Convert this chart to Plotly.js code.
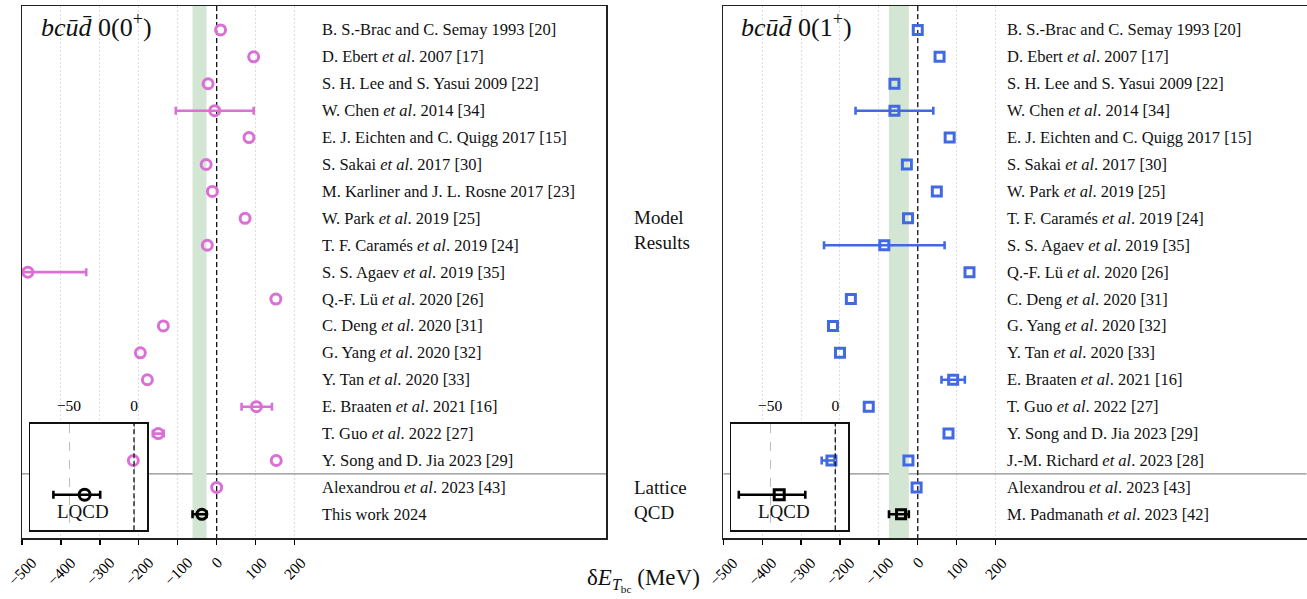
<!DOCTYPE html>
<html>
<head>
<meta charset="utf-8">
<script src="https://cdn.plot.ly/plotly-3.0.1.min.js"></script>
<style>html,body{margin:0;padding:0;background:#fff;}</style>
</head>
<body>
<div id="chart" style="width:1307px;height:599px;"></div>
<script>
// ---------- bc ū d̄ , I(J^P) = 0(0+) ----------
const refs0 = [
  "B. S.-Brac and C. Semay 1993 [20]",
  "D. Ebert <i>et al</i>. 2007 [17]",
  "S. H. Lee and S. Yasui 2009 [22]",
  "W. Chen <i>et al</i>. 2014 [34]",
  "E. J. Eichten and C. Quigg 2017 [15]",
  "S. Sakai <i>et al</i>. 2017 [30]",
  "M. Karliner and J. L. Rosne 2017 [23]",
  "W. Park <i>et al</i>. 2019 [25]",
  "T. F. Caramés <i>et al</i>. 2019 [24]",
  "S. S. Agaev <i>et al</i>. 2019 [35]",
  "Q.-F. Lü <i>et al</i>. 2020 [26]",
  "C. Deng <i>et al</i>. 2020 [31]",
  "G. Yang <i>et al</i>. 2020 [32]",
  "Y. Tan <i>et al</i>. 2020 [33]",
  "E. Braaten <i>et al</i>. 2021 [16]",
  "T. Guo <i>et al</i>. 2022 [27]",
  "Y. Song and D. Jia 2023 [29]",
  "Alexandrou <i>et al</i>. 2023 [43]",
  "This work 2024"
];
// model + Alexandrou results (MeV); null = no error quoted
const pointRef0 = [0,1,2,3,4,5,6,7,8,9,10,11,12,13,14,15,16,16,17];
const pointVal0 = [10, 95, -22, -5, 83, -27, -11, 73, -24, -485, 152, -137, -196, -178, 102, -150, -214, 153, 0];
const pointErrPlus0  = [null,null,null,100,null,null,null,null,null,150,null,null,null,null,40,14,null,null,null];
const pointErrMinus0 = [null,null,null,100,null,null,null,null,null,150,null,null,null,null,38,14,null,null,null];
// lattice result of this work
const lqcdRef0 = 18;
const lqcdVal0 = -38, lqcdPlus0 = 12, lqcdMinus0 = 24;

// ---------- bc ū d̄ , I(J^P) = 0(1+) ----------
const refs1 = [
  "B. S.-Brac and C. Semay 1993 [20]",
  "D. Ebert <i>et al</i>. 2007 [17]",
  "S. H. Lee and S. Yasui 2009 [22]",
  "W. Chen <i>et al</i>. 2014 [34]",
  "E. J. Eichten and C. Quigg 2017 [15]",
  "S. Sakai <i>et al</i>. 2017 [30]",
  "W. Park <i>et al</i>. 2019 [25]",
  "T. F. Caramés <i>et al</i>. 2019 [24]",
  "S. S. Agaev <i>et al</i>. 2019 [35]",
  "Q.-F. Lü <i>et al</i>. 2020 [26]",
  "C. Deng <i>et al</i>. 2020 [31]",
  "G. Yang <i>et al</i>. 2020 [32]",
  "Y. Tan <i>et al</i>. 2020 [33]",
  "E. Braaten <i>et al</i>. 2021 [16]",
  "T. Guo <i>et al</i>. 2022 [27]",
  "Y. Song and D. Jia 2023 [29]",
  "J.-M. Richard <i>et al</i>. 2023 [28]",
  "Alexandrou <i>et al</i>. 2023 [43]",
  "M. Padmanath <i>et al</i>. 2023 [42]"
];
const pointRef1 = [0,1,2,3,4,5,6,7,8,9,10,11,12,13,14,15,16,16,17];
const pointVal1 = [0, 56, -60, -60, 82, -28, 49, -25, -86, 133, -172, -218, -200, 91, -126, 79, -222, -24, -3];
const pointErrPlus1  = [null,null,null,100,null,null,null,null,155,null,null,null,null,30,null,null,8,null,null];
const pointErrMinus1 = [null,null,null,100,null,null,null,null,155,null,null,null,null,30,null,null,25,null,null];
const lqcdRef1 = 18;
const lqcdVal1 = -43, lqcdPlus1 = 20, lqcdMinus1 = 31;

// axis ticks
const mainTicks = [-500, -400, -300, -200, -100, 0, 100, 200];
const insetTicks = [-50, 0];

// ---------- styling ----------
const FONT = "Liberation Serif";
const PINK = "#da70d6";
const BLUE = "#4169e1";
const nanify = a => a.map(v => (v === null ? NaN : v));
const fmtTick = v => (v < 0 ? "\u2212" + Math.abs(v) : String(v));

// pixel layout of the panels
const W = 1307, H = 599;
const panelTop = 6, panelBottom = 538;
const tickLabelTop = 551;
const panels = [
  {x0: 22, x1: 606, inset: [30, 147]},
  {x0: 723.3, x1: 1306.7, inset: [731, 848.3]}
];
const insetTop = 423.7, insetBottom = 530.3;
const px2fx = p => p / W;
const px2fy = p => 1 - p / H;

const xRange = [-500, 1000];
const nRows = 19;
const yRange = [nRows - 1 + 0.88, -0.89];

function mainX(i) {
  return {
    domain: [px2fx(panels[i].x0), px2fx(panels[i].x1)],
    anchor: i === 0 ? "y" : "y2",
    range: xRange,
    tickmode: "array", tickvals: mainTicks,
    showticklabels: false,
    ticks: "outside", ticklen: 5, tickwidth: 1.3, tickcolor: "#000",
    showline: true, mirror: true, linecolor: "#222", linewidth: 1.5,
    showgrid: true, gridcolor: "#dcdcdc", griddash: "2px,2px", gridwidth: 1,
    zeroline: false, fixedrange: true
  };
}
function mainY(i, refs) {
  return {
    domain: [px2fy(panelBottom), px2fy(panelTop)],
    anchor: i === 0 ? "x" : "x2",
    type: "category", categoryorder: "array", categoryarray: refs,
    range: yRange,
    showticklabels: false, ticks: "",
    showline: true, mirror: true, linecolor: "#222", linewidth: 1.5,
    showgrid: false, zeroline: false, fixedrange: true
  };
}
function insetX(i) {
  return {
    domain: [px2fx(panels[i].inset[0]), px2fx(panels[i].inset[1])],
    anchor: i === 0 ? "y3" : "y4",
    side: "top",
    range: [-80, 10],
    tickmode: "array", tickvals: insetTicks,
    tickfont: {family: FONT, size: 15.5, color: "#000"},
    ticks: "", ticklabelstandoff: 5,
    showline: true, mirror: true, linecolor: "#111", linewidth: 1.5,
    showgrid: true, gridcolor: "#bdbdbd", griddash: "dash", gridwidth: 1,
    zeroline: false, fixedrange: true
  };
}
function insetY(i) {
  return {
    domain: [px2fy(insetBottom), px2fy(insetTop)],
    anchor: i === 0 ? "x3" : "x4",
    range: [-1, 2],
    showticklabels: false, ticks: "",
    showline: true, mirror: true, linecolor: "#111", linewidth: 1.5,
    showgrid: false, zeroline: false, fixedrange: true
  };
}

function errX(plus, minus, color) {
  return {type: "data", symmetric: false, array: plus, arrayminus: minus,
          color: color, thickness: 2.6, width: 4};
}

const traces = [];
const panelData = [
  {refs: refs0, pr: pointRef0, pv: pointVal0, pp: pointErrPlus0, pm: pointErrMinus0,
   lr: lqcdRef0, lv: lqcdVal0, lp: lqcdPlus0, lm: lqcdMinus0,
   color: PINK, symbol: "circle-open", size: 10},
  {refs: refs1, pr: pointRef1, pv: pointVal1, pp: pointErrPlus1, pm: pointErrMinus1,
   lr: lqcdRef1, lv: lqcdVal1, lp: lqcdPlus1, lm: lqcdMinus1,
   color: BLUE, symbol: "square-open", size: 9}
];

panelData.forEach((d, i) => {
  const xa = i === 0 ? "x" : "x2", ya = i === 0 ? "y" : "y2";
  const xi = i === 0 ? "x3" : "x4", yi = i === 0 ? "y3" : "y4";
  traces.push({
    type: "scatter", mode: "markers", xaxis: xa, yaxis: ya,
    x: d.pv, y: d.pr.map(k => d.refs[k]),
    marker: {symbol: d.symbol, size: d.size, color: d.color, line: {width: 3, color: d.color}},
    error_x: errX(nanify(d.pp), nanify(d.pm), d.color),
    hoverinfo: "x+y", showlegend: false
  });
  traces.push({
    type: "scatter", mode: "markers", xaxis: xa, yaxis: ya,
    x: [d.lv], y: [d.refs[d.lr]],
    marker: {symbol: d.symbol, size: d.size, color: "#000", line: {width: 3, color: "#000"}},
    error_x: errX([d.lp], [d.lm], "#000"),
    showlegend: false
  });
  // zoomed view of the lattice result
  traces.push({
    type: "scatter", mode: "markers", xaxis: xi, yaxis: yi,
    x: [d.lv], y: [0],
    marker: {symbol: d.symbol, size: d.size + 1, color: "#000", line: {width: 3, color: "#000"}},
    error_x: errX([d.lp], [d.lm], "#000"),
    showlegend: false
  });
});

const shapes = [];
const annotations = [];
panelData.forEach((d, i) => {
  const xa = i === 0 ? "x" : "x2", ya = i === 0 ? "y" : "y2";
  const xi = i === 0 ? "x3" : "x4", yi = i === 0 ? "y3" : "y4";
  const p = panels[i];
  const yTop = yRange[1], yBot = yRange[0];
  // separator between model and lattice results
  shapes.push({type: "line", layer: "between", xref: xa, yref: ya,
    x0: xRange[0], x1: xRange[1], y0: 16.5, y1: 16.5, line: {color: "#8c8c8c", width: 1.3}});
  // white backing under the inset (pixel box mapped into data units)
  const pxToX = px => xRange[0] + (px - p.x0) / (p.x1 - p.x0) * (xRange[1] - xRange[0]);
  const pxToY = py => yTop + (py - panelTop) / (panelBottom - panelTop) * (yBot - yTop);
  shapes.push({type: "rect", layer: "between", xref: xa, yref: ya,
    x0: pxToX(p.inset[0]), x1: pxToX(p.inset[1]),
    y0: pxToY(insetTop), y1: pxToY(insetBottom),
    fillcolor: "#fff", line: {width: 0}});
  // lattice band
  shapes.push({type: "rect", layer: "between", xref: xa, yref: ya,
    x0: d.lv - d.lm, x1: d.lv + d.lp, y0: yTop, y1: yBot,
    fillcolor: "#d3e5d3", line: {width: 0}});
  // zero line
  shapes.push({type: "line", layer: "between", xref: xa, yref: ya,
    x0: 0, x1: 0, y0: yTop, y1: yBot, line: {color: "#111", width: 1.3, dash: "5px,3px"}});
  // inset zero line
  shapes.push({type: "line", layer: "between", xref: xi, yref: yi,
    x0: 0, x1: 0, y0: -1, y1: 2, line: {color: "#111", width: 1.3, dash: "5px,3px"}});

  // rotated tick labels, centred under each tick
  mainTicks.forEach(t => annotations.push({
    xref: xa, yref: "paper", x: t, y: px2fy(tickLabelTop),
    xanchor: "center", yanchor: "top", textangle: -45, showarrow: false,
    text: fmtTick(t), font: {family: FONT, size: 15.5, color: "#000"}
  }));

  // reference labels
  const labelX = i === 0 ? 0.51 : 0.483;
  d.refs.forEach(r => annotations.push({
    xref: xa + " domain", yref: ya, x: labelX, y: r, text: r,
    xanchor: "left", yanchor: "middle", showarrow: false,
    font: {family: FONT, size: 16.5, color: "#111"}
  }));
  // panel title
  annotations.push({
    xref: xa + " domain", yref: ya + " domain", x: i === 0 ? 0.029 : 0.027, y: 0.964,
    xanchor: "left", yanchor: "middle", showarrow: false,
    text: "<i>bcu\u0304d\u0304</i> 0(" + (i === 0 ? "0" : "1") + "<sup>+</sup>)",
    font: {family: FONT, size: 26, color: "#111"}
  });
  // inset label
  annotations.push({
    xref: xi + " domain", yref: yi, x: 0.45, y: -0.48,
    xanchor: "center", yanchor: "middle", showarrow: false,
    text: "LQCD", font: {family: FONT, size: 19, color: "#111"}
  });
});

// group labels between panels
annotations.push({xref: "paper", yref: "paper", x: px2fx(632), y: px2fy(230),
  xanchor: "left", yanchor: "middle", align: "left", showarrow: false,
  text: "Model<br>Results", font: {family: FONT, size: 19, color: "#111"}});
annotations.push({xref: "paper", yref: "paper", x: px2fx(632), y: px2fy(500),
  xanchor: "left", yanchor: "middle", align: "left", showarrow: false,
  text: "Lattice<br>QCD", font: {family: FONT, size: 19, color: "#111"}});
// shared x-axis title
annotations.push({xref: "paper", yref: "paper", x: px2fx(643), y: px2fy(580),
  xanchor: "center", yanchor: "middle", showarrow: false,
  text: "δ<i>E</i><sub><i>T</i><sub>bc</sub></sub> (MeV)",
  font: {family: FONT, size: 23, color: "#111"}});

const layout = {
  width: W, height: H,
  margin: {l: 0, r: 0, t: 0, b: 0},
  paper_bgcolor: "#fff", plot_bgcolor: "rgba(0,0,0,0)",
  font: {family: FONT, color: "#111"},
  showlegend: false,
  xaxis: mainX(0), yaxis: mainY(0, refs0),
  xaxis2: mainX(1), yaxis2: mainY(1, refs1),
  xaxis3: insetX(0), yaxis3: insetY(0),
  xaxis4: insetX(1), yaxis4: insetY(1),
  shapes: shapes,
  annotations: annotations
};

Plotly.newPlot("chart", traces, layout, {displayModeBar: false, staticPlot: true});
</script>
</body>
</html>
